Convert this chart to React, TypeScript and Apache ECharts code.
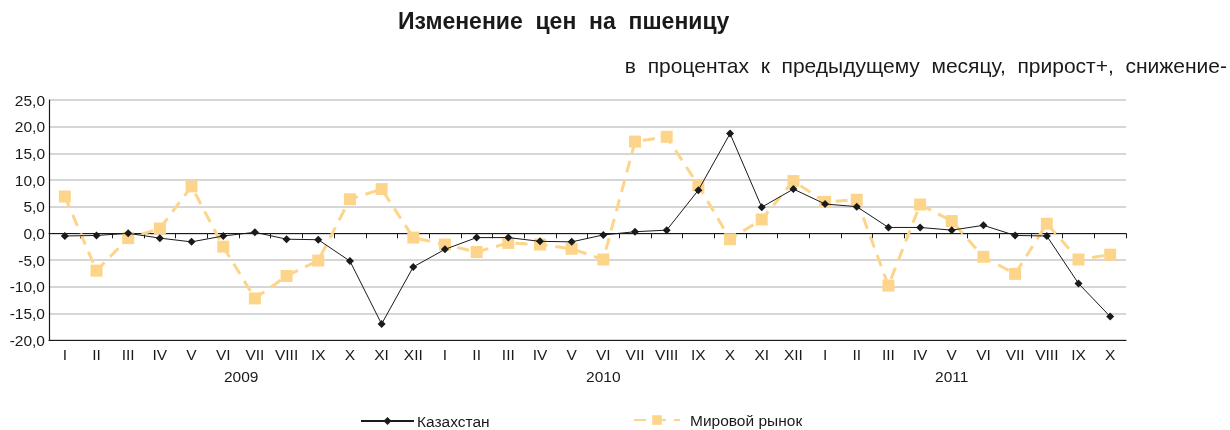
import React, { useEffect, useRef } from 'react';
import * as echarts from 'echarts';

const months = ['I', 'II', 'III', 'IV', 'V', 'VI', 'VII', 'VIII', 'IX', 'X', 'XI', 'XII'];
const categories = [...months, ...months, ...months.slice(0, 10)];
const years = ['2009', '2010', '2011'];
const yearLabelIndex = [5, 17, 28];

const kazakhstan = [
  -0.5, -0.4, 0.0, -0.9, -1.6, -0.5, 0.2, -1.1, -1.2, -5.2, -17.0, -6.3,
  -3.0, -0.8, -0.8, -1.5, -1.6, -0.3, 0.3, 0.6, 8.1, 18.7, 4.9, 8.3,
  5.5, 5.0, 1.1, 1.1, 0.6, 1.5, -0.4, -0.5, -9.4, -15.6,
];
const world = [
  6.9, -7.0, -0.9, 0.9, 8.8, -2.5, -12.2, -8.0, -5.1, 6.4, 8.3, -0.8,
  -2.1, -3.5, -1.8, -2.1, -2.9, -4.9, 17.2, 18.1, 9.0, -1.1, 2.6, 9.8,
  5.9, 6.3, -9.8, 5.4, 2.3, -4.4, -7.6, 1.8, -4.9, -4.0,
];

const FONT = '"Liberation Sans", Arial, sans-serif';
const TXT = '#1a1a1a';

export default function App() {
  const ref = useRef<HTMLDivElement>(null);
  useEffect(() => {
    if (!ref.current) return;
    document.body.style.margin = '0';
    document.body.style.overflow = 'hidden';
    const chart = echarts.init(ref.current, undefined, { renderer: 'svg' });
    chart.setOption({
      animation: false,
      textStyle: { fontFamily: FONT },
      title: [
        {
          text: 'Изменение  цен  на  пшеницу',
          left: 393,
          top: 4,
          textStyle: { fontFamily: FONT, fontSize: 23, fontWeight: 'bold', color: TXT },
        },
        {
          text: 'в  процентах  к  предыдущему  месяцу,  прирост+,  снижение-',
          right: -2,
          top: 50,
          textStyle: { fontFamily: FONT, fontSize: 21, fontWeight: 'normal', color: TXT },
        },
      ],
      grid: { left: 49, right: 104, top: 100, bottom: 90 },
      legend: [
        {
          data: ['Казахстан'],
          left: 355,
          top: 408,
          itemWidth: 53,
          itemHeight: 10,
          itemGap: 4,
          textStyle: { fontFamily: FONT, fontSize: 15.5, color: TXT, padding: [0, 0, 0, -2] },
        },
        {
          data: ['Мировой рынок'],
          left: 628,
          top: 407,
          itemWidth: 46,
          itemHeight: 12,
          textStyle: { fontFamily: FONT, fontSize: 15.5, color: TXT, padding: [0, 0, 0, 5] },
        },
      ],
      xAxis: [
        {
          type: 'category',
          data: categories,
          boundaryGap: true,
          axisLine: { onZero: true, lineStyle: { color: TXT, width: 1 } },
          axisTick: { show: true, length: 5, lineStyle: { color: TXT } },
          axisLabel: { show: false },
          splitLine: { show: false },
        },
        {
          type: 'category',
          data: categories,
          position: 'bottom',
          boundaryGap: true,
          axisLine: { onZero: false, show: true, lineStyle: { color: TXT, width: 1.2 } },
          axisTick: { show: false },
          axisLabel: { show: true, interval: 0, margin: 6, fontSize: 15.5, color: TXT, fontFamily: FONT },
          splitLine: { show: false },
        },
        {
          type: 'category',
          data: categories,
          position: 'bottom',
          offset: 22,
          boundaryGap: true,
          axisLine: { show: false, onZero: false },
          axisTick: { show: false },
          axisLabel: {
            show: true,
            interval: 0,
            margin: 6,
            fontSize: 15.5,
            color: TXT,
            fontFamily: FONT,
            formatter: (_v: string, i: number) => {
              const k = yearLabelIndex.indexOf(i);
              if (k < 0) return '';
              return k === 0 ? '{a|' + years[k] + '}' : years[k];
            },
            rich: { a: { fontSize: 15.5, color: TXT, fontFamily: FONT, padding: [0, 0, 0, 36] } },
          },
          splitLine: { show: false },
        },
      ],
      yAxis: {
        type: 'value',
        min: -20,
        max: 25,
        interval: 5,
        axisLine: { show: true, lineStyle: { color: TXT, width: 1.2 } },
        axisTick: { show: false },
        axisLabel: {
          fontSize: 15.5,
          color: TXT,
          margin: 4,
          fontFamily: FONT,
          formatter: (v: number) => v.toFixed(1).replace('.', ','),
        },
        splitLine: { show: true, lineStyle: { color: '#c8c8c8', width: 1.5 } },
      },
      series: [
        {
          name: 'Мировой рынок',
          type: 'line',
          xAxisIndex: 0,
          data: world,
          symbol: 'rect',
          symbolSize: 12,
          itemStyle: { color: '#FDD58A' },
          lineStyle: { color: '#FDD58A', width: 3, type: [12, 8] },
          z: 2,
        },
        {
          name: 'Казахстан',
          type: 'line',
          xAxisIndex: 0,
          data: kazakhstan,
          symbol: 'diamond',
          symbolSize: 8,
          itemStyle: { color: TXT },
          lineStyle: { color: TXT, width: 1 },
          z: 3,
        },
      ],
    });
    return () => chart.dispose();
  }, []);
  return <div ref={ref} style={{ position: 'fixed', left: 0, top: 0, width: 1230, height: 430 }} />;
}
